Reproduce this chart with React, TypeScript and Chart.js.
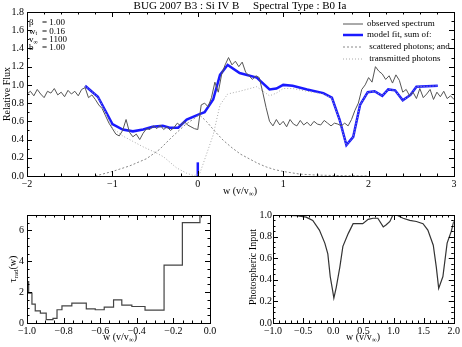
import React, { useEffect, useRef } from 'react';
import { Chart, registerables } from 'chart.js';
Chart.register(...registerables);

const SERIF = '"Liberation Serif", "DejaVu Serif", serif';

// ---------- top panel data ----------
const OBS_START = -2;
const OBS_STEP = 0.04;
const observedFlux = [
  0.90, 0.93, 0.88, 0.95, 0.90, 0.86, 0.93, 0.91, 0.96, 0.89, 0.92, 0.87, 0.94, 0.90, 0.93, 0.88, 0.95, 0.97,
  0.86, 0.89, 0.84, 0.78, 0.74, 0.66, 0.58, 0.52,
  0.46, 0.44, 0.50, 0.62, 0.48, 0.43, 0.46, 0.40, 0.47, 0.52,
  0.51, 0.55, 0.52, 0.56, 0.51, 0.54, 0.50, 0.53, 0.58, 0.55, 0.60, 0.56, 0.54, 0.52,
  0.51, 0.78, 0.80, 0.76, 0.86, 1.03, 0.92, 1.12, 1.22, 1.30,
  1.22, 1.26, 1.20, 1.25, 1.14, 1.10, 1.06, 1.10, 1.08, 0.92,
  0.75, 0.60, 0.55, 0.62, 0.56, 0.60, 0.54, 0.62, 0.57, 0.55, 0.61, 0.56, 0.59, 0.55, 0.60, 0.57, 0.56, 0.61, 0.58, 0.55, 0.58, 0.57, 0.55, 0.58,
  0.55, 0.62, 0.72, 0.80, 0.95, 1.00, 1.08, 1.03, 1.20, 1.15,
  1.12, 1.06, 1.10, 1.02, 1.11, 1.05, 0.92, 0.95,
  0.88, 0.92, 0.85, 0.96, 0.86, 0.90, 0.95, 0.84, 0.92, 0.87, 0.93, 0.85, 0.88, 0.84,
];

const modelW = [-1.32, -1.17, -1.09, -1.0, -0.88, -0.76, -0.64, -0.53, -0.41, -0.33, -0.23, -0.13, 0.02, 0.08, 0.18, 0.26, 0.35, 0.49, 0.69, 0.84, 0.92, 1.0, 1.11, 1.28, 1.47, 1.57, 1.66, 1.74, 1.82, 1.90, 1.99, 2.07, 2.16, 2.23, 2.31, 2.40, 2.49, 2.56, 2.81];
const modelFlux = [0.99, 0.87, 0.73, 0.57, 0.51, 0.49, 0.51, 0.54, 0.55, 0.53, 0.53, 0.62, 0.68, 0.70, 0.84, 1.11, 1.22, 1.13, 1.08, 0.95, 0.96, 1.0, 0.99, 0.95, 0.91, 0.86, 0.62, 0.34, 0.43, 0.78, 0.92, 0.93, 0.88, 0.95, 0.94, 0.83, 0.89, 0.98, 0.99];

const scatteredW = [-1.2, -1.0, -0.8, -0.6, -0.45, -0.3, -0.15, 0.0, 0.02, 0.1, 0.2, 0.3, 0.4, 0.5, 0.6, 0.7, 0.8, 0.9, 1.0, 1.1, 1.2, 1.4, 1.6, 2.0];
const scatteredFlux = [0.0, 0.05, 0.11, 0.19, 0.29, 0.43, 0.56, 0.66, 0.67, 0.60, 0.49, 0.39, 0.31, 0.24, 0.19, 0.14, 0.10, 0.07, 0.05, 0.035, 0.02, 0.01, 0.005, 0.0];

const transmittedW = [-1.32, -1.17, -1.09, -1.0, -0.88, -0.76, -0.64, -0.5, -0.4, -0.25, -0.13, -0.05, 0.02, 0.08, 0.18, 0.26, 0.35, 0.49, 0.69, 0.84, 0.92, 1.0, 1.11, 1.28, 1.47, 1.57, 1.66, 1.74, 1.82, 1.90, 1.99, 2.07, 2.16, 2.23, 2.31, 2.40, 2.49, 2.56, 2.81];
const transmittedFlux = [0.99, 0.87, 0.72, 0.53, 0.44, 0.38, 0.32, 0.26, 0.21, 0.09, 0.03, 0.005, 0.02, 0.18, 0.45, 0.78, 0.90, 0.93, 0.98, 0.88, 0.91, 0.96, 0.96, 0.93, 0.90, 0.855, 0.615, 0.335, 0.43, 0.78, 0.92, 0.93, 0.88, 0.95, 0.94, 0.83, 0.89, 0.98, 0.99];

const markerW = [0, 0];
const markerFlux = [0, 0.15];

const topXTickValues = [-2, -1, 0, 1, 2, 3];
const topYTickValues = [0, 0.2, 0.4, 0.6, 0.8, 1.0, 1.2, 1.4, 1.6, 1.8];

type Part = { t: string; sub?: boolean };
const paramNames: Part[][] = [[{ t: 'β' }], [{ t: 'w' }, { t: 't', sub: true }], [{ t: 'v' }, { t: '∞', sub: true }], [{ t: 'b' }]];
const paramValues = ['= 1.00', '= 0.16', '= 1100', '= 1.00'];

const legendLabels = ['observed spectrum', 'model fit, sum of:', ' scattered photons; and', ' transmitted photons'];

// ---------- bottom-left data ----------
const tauEdges = [-1.0, -0.991, -0.973, -0.955, -0.927, -0.895, -0.858, -0.836, -0.809, -0.755, -0.676, -0.627, -0.578, -0.527, -0.482, -0.427, -0.355, -0.251, -0.151, -0.055, 0.0];
const tauValues = [2.68, 1.93, 1.22, 0.79, 0.64, 0.22, 0.30, 0.86, 1.11, 1.29, 0.92, 0.86, 1.03, 1.50, 1.16, 1.07, 0.84, 3.75, 6.5, 7.5];
const blXTickValues = [-1.0, -0.8, -0.6, -0.4, -0.2, 0.0];
const blYTickValues = [0, 2, 4, 6];

// ---------- bottom-right data ----------
const photW = [-1.0, -0.83, -0.61, -0.45, -0.34, -0.23, -0.14, -0.09, -0.05, -0.01, 0.01, 0.05, 0.11, 0.16, 0.25, 0.33, 0.44, 0.49, 0.58, 0.66, 0.74, 0.83, 0.88, 0.94, 0.99, 1.05, 1.16, 1.27, 1.38, 1.49, 1.57, 1.66, 1.71, 1.75, 1.82, 1.89, 1.96, 2.0];
const photFlux = [1.0, 0.998, 0.995, 0.98, 0.95, 0.86, 0.74, 0.64, 0.43, 0.30, 0.23, 0.33, 0.52, 0.71, 0.83, 0.92, 0.92, 0.92, 0.96, 0.97, 0.97, 0.89, 0.91, 0.94, 1.0, 1.0, 0.97, 0.95, 0.94, 0.92, 0.86, 0.72, 0.52, 0.32, 0.43, 0.74, 0.85, 0.94];
const brXTickValues = [-1.0, -0.5, 0.0, 0.5, 1.0, 1.5, 2.0];
const brYTickValues = [0, 0.2, 0.4, 0.6, 0.8, 1.0];

// ---------- helpers ----------
const fmt = (v: number, d: number) => (v < 0 ? '\u2212' : '') + Math.abs(v).toFixed(d);

function drawRich(ctx: CanvasRenderingContext2D, parts: Part[], x: number, y: number, size: number, align: string, rotate: boolean) {
  ctx.save();
  ctx.translate(x, y);
  if (rotate) ctx.rotate(-Math.PI / 2);
  ctx.textBaseline = 'middle';
  ctx.textAlign = 'left';
  ctx.fillStyle = '#000';
  let total = 0;
  const widths = parts.map((p) => {
    ctx.font = `${p.sub ? Math.round(size * 0.7) : size}px ${SERIF}`;
    const w = ctx.measureText(p.t).width;
    total += w;
    return w;
  });
  let cx = align === 'center' ? -total / 2 : align === 'right' ? -total : 0;
  parts.forEach((p, i) => {
    ctx.font = `${p.sub ? Math.round(size * 0.7) : size}px ${SERIF}`;
    ctx.fillText(p.t, cx, p.sub ? size * 0.3 : 0);
    cx += widths[i];
  });
  ctx.restore();
}

type TextItem = { parts: Part[]; x: number; y: number; size: number; align?: string; rotate?: boolean };
type LegendItem = { x1: number; x2: number; y: number; color: string; width: number; dash?: number[]; tx: number; text: string; size: number };
type FrameOpts = { xMajor: number; xMinor: number; yMajor: number; yMinor: number; texts: TextItem[]; legend?: LegendItem[] };

function makeFrame(o: FrameOpts) {
  return {
    id: 'frame',
    afterDraw(chart: any) {
      const { ctx, chartArea: a, scales } = chart;
      const xs = scales.x, ys = scales.y;
      ctx.save();
      ctx.strokeStyle = '#000';
      ctx.lineWidth = 1;
      ctx.strokeRect(Math.round(a.left) + 0.5, Math.round(a.top) + 0.5, Math.round(a.right - a.left), Math.round(a.bottom - a.top));
      ctx.beginPath();
      const tx = (step: number, len: number) => {
        const n = Math.round((xs.max - xs.min) / step);
        for (let i = 1; i < n; i++) {
          const p = Math.round(xs.getPixelForValue(xs.min + i * step)) + 0.5;
          ctx.moveTo(p, a.bottom); ctx.lineTo(p, a.bottom - len);
          ctx.moveTo(p, a.top); ctx.lineTo(p, a.top + len);
        }
      };
      const ty = (step: number, len: number) => {
        const n = Math.round((ys.max - ys.min) / step);
        for (let i = 1; i < n; i++) {
          const p = Math.round(ys.getPixelForValue(ys.min + i * step)) + 0.5;
          ctx.moveTo(a.left, p); ctx.lineTo(a.left + len, p);
          ctx.moveTo(a.right, p); ctx.lineTo(a.right - len, p);
        }
      };
      tx(o.xMajor, 5); tx(o.xMinor, 2.5); ty(o.yMajor, 5); ty(o.yMinor, 2.5);
      ctx.stroke();
      (o.legend || []).forEach((l) => {
        ctx.beginPath();
        ctx.strokeStyle = l.color;
        ctx.lineWidth = l.width;
        ctx.setLineDash(l.dash || []);
        ctx.moveTo(l.x1, l.y); ctx.lineTo(l.x2, l.y);
        ctx.stroke();
        ctx.setLineDash([]);
        drawRich(ctx, [{ t: l.text }], l.tx, l.y, l.size, 'left', false);
      });
      o.texts.forEach((t) => drawRich(ctx, t.parts, t.x, t.y, t.size, t.align || 'center', !!t.rotate));
      ctx.restore();
    },
  };
}

function axis(min: number, max: number, vals: number[], dec: number, size: number, pad: number, fit: (s: any) => void) {
  return {
    type: 'linear',
    min, max,
    grid: { display: false, drawTicks: false, tickLength: 0 },
    border: { display: false },
    afterBuildTicks: (s: any) => { s.ticks = vals.map((v) => ({ value: v })); },
    afterFit: fit,
    ticks: {
      color: '#000',
      padding: pad,
      autoSkip: false,
      maxRotation: 0,
      font: { family: SERIF, size },
      callback: (v: any) => fmt(Number(v), dec),
    },
  };
}

function Panel({ left, top, width, height, config }: any) {
  const ref = useRef<HTMLCanvasElement>(null);
  useEffect(() => {
    const chart = new Chart(ref.current as HTMLCanvasElement, config);
    return () => chart.destroy();
  }, []);
  return (
    <canvas ref={ref} width={width} height={height}
      style={{ position: 'absolute', left, top, width, height }} />
  );
}

const baseOpts = (padding: any) => ({
  animation: false,
  responsive: false,
  devicePixelRatio: 1,
  layout: { padding },
  elements: { point: { radius: 0 }, line: { tension: 0 } },
});

const noPlugins = { legend: { display: false }, tooltip: { enabled: false }, title: { display: false } };

const wLabel: Part[] = [{ t: 'w (v/v' }, { t: '∞', sub: true }, { t: ')' }];

const topConfig: any = {
  type: 'line',
  data: {
    datasets: [
      { data: observedFlux.map((y, i) => ({ x: OBS_START + i * OBS_STEP, y })), borderColor: '#555', borderWidth: 1 },
      { data: scatteredW.map((x, i) => ({ x, y: scatteredFlux[i] })), borderColor: '#888', borderWidth: 1, borderDash: [2, 2] },
      { data: transmittedW.map((x, i) => ({ x, y: transmittedFlux[i] })), borderColor: '#aaa', borderWidth: 1, borderDash: [1, 2] },
      { data: modelW.map((x, i) => ({ x, y: modelFlux[i] })), borderColor: '#1a1aff', borderWidth: 2.5 },
      { data: markerW.map((x, i) => ({ x, y: markerFlux[i] })), borderColor: '#1a1aff', borderWidth: 2.5 },
    ],
  },
  options: {
    ...baseOpts({ top: 12, right: 8, left: 0, bottom: 0 }),
    plugins: noPlugins,
    scales: {
      x: axis(-2, 3, topXTickValues, 0, 10, 2, (s: any) => { s.height = 24; }),
      y: axis(0, 1.8, topYTickValues, 1, 10, 3, (s: any) => { s.width = 27; }),
    },
  },
  plugins: [makeFrame({
    xMajor: 1, xMinor: 0.2, yMajor: 0.2, yMinor: 0.1,
    legend: [
      { x1: 343, x2: 363, y: 24, color: '#555', width: 1, tx: 367, text: legendLabels[0], size: 9 },
      { x1: 343, x2: 363, y: 35, color: '#1a1aff', width: 2.5, tx: 367, text: legendLabels[1], size: 9 },
      { x1: 343, x2: 363, y: 47, color: '#888', width: 1, dash: [2, 2], tx: 367, text: legendLabels[2], size: 9 },
      { x1: 343, x2: 363, y: 59, color: '#aaa', width: 1, dash: [1, 2], tx: 367, text: legendLabels[3], size: 9 },
    ],
    texts: [
      { parts: [{ t: 'BUG 2007 B3 : Si IV B     Spectral Type : B0 Ia' }], x: 240, y: 6, size: 11 },
      { parts: [{ t: 'Relative Flux' }], x: 7, y: 94, size: 10, rotate: true },
      { parts: wLabel, x: 240, y: 191, size: 10 },
      ...paramNames.map((p, i) => ({ parts: p, x: 29, y: 23 + i * 8.2, size: 9, align: 'left' })),
      ...paramValues.map((v, i) => ({ parts: [{ t: v }], x: 42, y: 23 + i * 8.2, size: 9, align: 'left' })),
    ],
  })],
};

const tauPoints = tauValues.map((y, i) => ({ x: tauEdges[i], y }));
tauPoints.push({ x: tauEdges[tauEdges.length - 1], y: tauValues[tauValues.length - 1] });

const blConfig: any = {
  type: 'line',
  data: { datasets: [{ data: tauPoints, borderColor: '#444', borderWidth: 1.2, stepped: 'before' }] },
  options: {
    ...baseOpts({ top: 15, right: 20, left: 0, bottom: 0 }),
    plugins: noPlugins,
    scales: {
      x: axis(-1, 0, blXTickValues, 1, 10, 2, (s: any) => { s.height = 24; }),
      y: axis(0, 7, blYTickValues, 0, 10, 3, (s: any) => { s.width = 27; }),
    },
  },
  plugins: [makeFrame({
    xMajor: 0.2, xMinor: 0.05, yMajor: 2, yMinor: 0.5,
    texts: [
      { parts: [{ t: 'τ' }, { t: 'rad', sub: true }, { t: '(w)' }], x: 13, y: 69, size: 10, rotate: true },
      { parts: wLabel, x: 120, y: 137, size: 10 },
    ],
  })],
};

const brConfig: any = {
  type: 'line',
  data: { datasets: [{ data: photW.map((x, i) => ({ x, y: photFlux[i] })), borderColor: '#333', borderWidth: 1.2 }] },
  options: {
    ...baseOpts({ top: 15, right: 8, left: 0, bottom: 0 }),
    plugins: noPlugins,
    scales: {
      x: axis(-1, 2, brXTickValues, 1, 10, 2, (s: any) => { s.height = 24; }),
      y: axis(0, 1, brYTickValues, 1, 10, 1, (s: any) => { s.width = 43; }),
    },
  },
  plugins: [makeFrame({
    xMajor: 0.5, xMinor: 0.1, yMajor: 0.2, yMinor: 0.05,
    texts: [
      { parts: [{ t: 'Photospheric Input' }], x: 23, y: 67, size: 10, rotate: true },
      { parts: wLabel, x: 133, y: 137, size: 10 },
    ],
  })],
};

export default function App() {
  return (
    <div style={{ position: 'absolute', left: 0, top: 0, width: 462, height: 347, background: '#fff' }}>
      <Panel left={0} top={0} width={462} height={200} config={topConfig} />
      <Panel left={0} top={200} width={230} height={147} config={blConfig} />
      <Panel left={230} top={200} width={232} height={147} config={brConfig} />
    </div>
  );
}
